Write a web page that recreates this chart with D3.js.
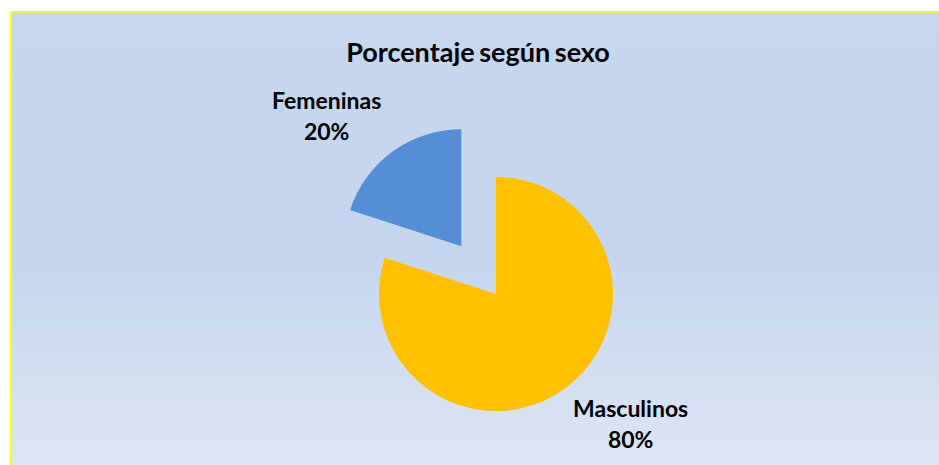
<!DOCTYPE html>
<html lang="es">
<head>
    <meta charset="UTF-8">
    <title>Porcentaje según sexo</title>
    <script src="https://cdn.jsdelivr.net/npm/d3@7/dist/d3.min.js"></script>
    <style>
        body { margin: 0; background: #fff; }
        text { font-family: Lato, "Open Sans", sans-serif; font-weight: bold; fill: #000; }
        .title { font-size: 27px; word-spacing: -2px; }
        .lbl { font-size: 23px; text-anchor: middle; }
    </style>
</head>
<body>
<svg id="pie" width="939" height="465"></svg>
<script>
    // datos
    const categories = ["Masculinos", "Femeninas"]
    const values = [80, 20]
    const colorList = ["#ffc000", "#558ed5"]
    const exploded = [false, true]

    const svg = d3.select("#pie")
    const width = +svg.attr("width")
    const height = +svg.attr("height")

    const defs = svg.append("defs")
    const grad = defs.append("linearGradient").attr("id", "bg")
        .attr("x1", 0).attr("y1", 0).attr("x2", 0).attr("y2", 1)
    grad.append("stop").attr("offset", "0%").attr("stop-color", "#c6d8ef")
    grad.append("stop").attr("offset", "50%").attr("stop-color", "#c4d5ee")
    grad.append("stop").attr("offset", "100%").attr("stop-color", "#dfe6f4")

    // area del grafico con borde amarillo
    svg.append("rect").attr("x", 11).attr("y", 12).attr("width", width).attr("height", height)
        .attr("fill", "url(#bg)")
    svg.append("line").attr("x1", 11).attr("y1", 12).attr("x2", width).attr("y2", 12)
        .attr("stroke", "#f2f23c").attr("stroke-width", 2)
    svg.append("line").attr("x1", 11).attr("y1", 12).attr("x2", 11).attr("y2", height)
        .attr("stroke", "#ffff00").attr("stroke-width", 2)

    svg.append("text").attr("class", "title")
        .attr("x", 478).attr("y", 62).attr("text-anchor", "middle")
        .text("Porcentaje según sexo")

    const cx = 496, cy = 294
    const radius = 117
    const explode = 59
    const g = svg.append("g").attr("transform", `translate(${cx},${cy})`)

    const total = d3.sum(values)
    const data = categories.map((c, i) => ({ name: c, value: values[i], color: colorList[i], explode: exploded[i] }))
    const pie = d3.pie().sort(null).value(d => d.value)
    const arc = d3.arc().innerRadius(0).outerRadius(radius)

    const offset = d => {
        if (!d.data.explode) return [0, 0]
        const a = (d.startAngle + d.endAngle) / 2
        return [Math.sin(a) * explode, -Math.cos(a) * explode]
    }

    const slices = g.selectAll(".arc").data(pie(data)).enter().append("g").attr("class", "arc")
        .attr("transform", d => `translate(${offset(d)})`)
    slices.append("path").attr("d", arc).attr("fill", d => d.data.color)

    // etiquetas fuera del pastel
    const labelR = radius * 1.6
    const shift = -10 * Math.PI / 180
    slices.each(function (d) {
        const a = (d.startAngle + d.endAngle) / 2 + shift
        const x = Math.sin(a) * labelR
        const y = -Math.cos(a) * labelR
        const t = d3.select(this).append("text").attr("class", "lbl")
            .attr("transform", `translate(${x},${y})`)
        t.append("tspan").attr("x", 0).attr("y", -7).text(d.data.name)
        t.append("tspan").attr("x", 0).attr("y", 24).text(Math.round(d.value / total * 100) + "%")
    })
</script>
</body>
</html>
